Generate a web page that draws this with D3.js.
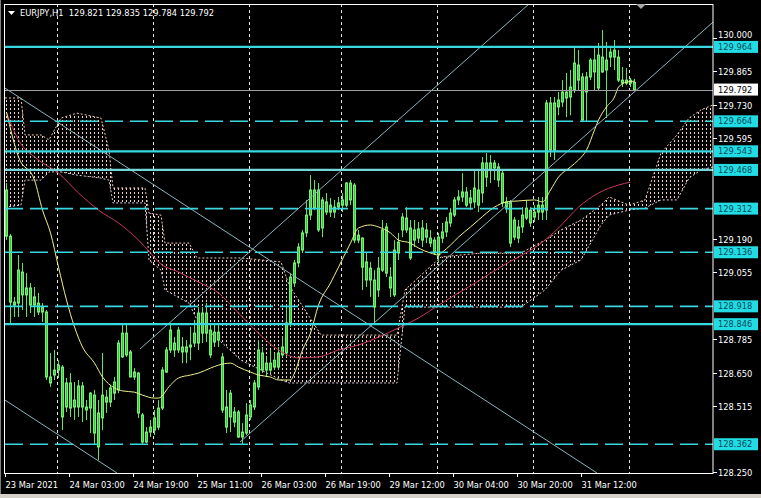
<!DOCTYPE html>
<html><head><meta charset="utf-8">
<script src="https://cdn.jsdelivr.net/npm/d3@7"></script>
<style>html,body{margin:0;padding:0;background:#000;overflow:hidden}</style>
</head><body>
<svg id="c" width="761" height="498"></svg>
<script>
// ---------------- DATA ----------------
const barOpen = [129.387,129.201,128.935,128.931,129.056,128.964,128.992,128.923,128.931,128.895,128.895,128.633,128.641,128.661,128.673,128.512,128.609,128.512,128.512,128.597,128.512,128.508,128.560,128.488,128.468,128.552,128.532,128.568,128.581,128.714,128.810,128.734,128.633,128.649,128.480,128.371,128.411,128.419,128.431,128.508,128.653,128.742,128.770,128.742,128.754,128.734,128.754,128.770,128.770,128.891,128.810,128.822,128.774,128.814,128.714,128.512,128.472,128.492,128.492,128.391,128.407,128.472,128.512,128.593,128.730,128.661,128.689,128.673,128.673,128.722,128.730,128.851,129.012,129.093,129.145,129.214,129.286,129.314,129.387,129.234,129.339,129.298,129.318,129.318,129.326,129.326,129.415,129.407,129.185,129.193,129.097,129.024,129.024,128.984,129.064,129.238,128.992,128.964,129.133,129.226,129.274,129.234,129.185,129.193,129.234,129.197,129.193,129.185,129.125,129.193,129.218,129.254,129.286,129.347,129.359,129.379,129.335,129.339,129.387,129.375,129.496,129.468,129.496,129.480,129.455,129.339,129.339,129.197,129.238,129.238,129.274,129.306,129.278,129.298,129.326,129.306,129.738,129.548,129.722,129.742,129.782,129.762,129.790,129.891,129.843,129.782,129.843,129.911,129.798,129.923,129.871,129.943,129.923,129.923,129.830,129.818,129.830,129.821];
const barHigh = [129.415,129.210,128.956,129.125,129.093,129.052,129.012,128.996,128.972,128.931,128.903,128.730,128.742,128.701,128.681,128.629,128.649,128.613,128.621,128.613,128.540,128.572,128.581,128.540,128.730,128.581,128.601,128.633,128.782,128.851,128.851,128.742,128.669,128.653,128.488,128.431,128.460,128.500,128.540,128.673,128.754,128.851,128.794,128.835,128.794,128.782,128.835,128.863,128.915,128.915,128.931,128.851,128.851,128.843,128.730,128.581,128.581,128.512,128.500,128.447,128.528,128.540,128.621,128.782,128.754,128.714,128.742,128.730,128.754,128.794,128.915,129.052,129.105,129.173,129.226,129.347,129.447,129.427,129.415,129.359,129.375,129.355,129.347,129.359,129.375,129.419,129.427,129.415,129.226,129.197,129.133,129.097,129.064,129.117,129.266,129.254,129.076,129.185,129.214,129.294,129.318,129.266,129.266,129.258,129.266,129.254,129.226,129.197,129.214,129.254,129.278,129.314,129.359,129.387,129.455,129.399,129.387,129.468,129.468,129.520,129.536,129.528,129.508,129.496,129.468,129.359,129.347,129.278,129.266,129.318,129.347,129.318,129.326,129.359,129.359,129.750,129.762,129.762,129.782,129.830,129.859,129.871,129.959,129.951,129.859,129.863,129.919,129.959,129.980,130.032,129.984,129.959,129.992,129.951,129.883,129.879,129.839,129.835];
const barLow = [129.185,128.843,128.875,128.875,128.903,128.875,128.891,128.875,128.883,128.855,128.621,128.593,128.621,128.629,128.419,128.492,128.472,128.460,128.472,128.451,128.460,128.407,128.359,128.298,128.419,128.488,128.512,128.540,128.568,128.710,128.714,128.633,128.621,128.468,128.359,128.367,128.391,128.399,128.419,128.500,128.649,128.730,128.714,128.730,128.689,128.689,128.701,128.754,128.742,128.770,128.774,128.710,128.754,128.754,128.488,128.407,128.411,128.431,128.387,128.363,128.399,128.460,128.500,128.581,128.649,128.633,128.649,128.661,128.661,128.714,128.714,128.835,128.996,129.076,129.133,129.197,129.266,129.306,129.218,129.197,129.286,129.278,129.274,129.306,129.298,129.318,129.326,129.173,129.173,128.984,128.996,128.956,128.843,128.956,129.056,129.036,128.956,128.956,129.105,129.197,129.214,129.105,129.157,129.173,129.157,129.173,129.157,129.125,129.093,129.173,129.197,129.238,129.278,129.326,129.339,129.318,129.306,129.314,129.298,129.335,129.399,129.415,129.427,129.399,129.318,129.294,129.157,129.185,129.173,129.214,129.266,129.238,129.258,129.266,129.266,129.266,129.520,129.508,129.689,129.722,129.681,129.689,129.778,129.790,129.661,129.661,129.830,129.790,129.790,129.859,129.677,129.883,129.871,129.822,129.802,129.810,129.802,129.784];
const barClose = [129.201,128.935,128.923,129.064,128.964,128.992,128.923,128.956,128.895,128.915,128.633,128.609,128.661,128.681,128.472,128.609,128.508,128.540,128.597,128.512,128.500,128.568,128.407,128.351,128.560,128.532,128.589,128.613,128.770,128.810,128.722,128.633,128.653,128.488,128.371,128.411,128.431,128.468,128.508,128.661,128.742,128.822,128.742,128.822,128.734,128.754,128.762,128.810,128.891,128.810,128.891,128.722,128.814,128.782,128.500,128.431,128.568,128.451,128.391,128.411,128.480,128.520,128.609,128.742,128.661,128.689,128.661,128.701,128.730,128.754,128.851,129.036,129.093,129.157,129.214,129.286,129.387,129.387,129.226,129.347,129.298,129.326,129.298,129.335,129.347,129.415,129.347,129.185,129.205,129.076,129.024,129.072,128.915,129.072,129.226,129.052,129.036,129.145,129.177,129.278,129.226,129.113,129.226,129.230,129.185,129.226,129.173,129.133,129.197,129.218,129.258,129.294,129.347,129.359,129.379,129.326,129.355,129.395,129.326,129.496,129.439,129.496,129.476,129.427,129.335,129.318,129.173,129.266,129.193,129.286,129.314,129.254,129.298,129.326,129.298,129.738,129.548,129.738,129.750,129.782,129.758,129.802,129.899,129.830,129.669,129.843,129.911,129.863,129.931,129.863,129.911,129.923,129.951,129.830,129.818,129.830,129.818,129.792];

// moving averages (bar index, price)
const yellowIdx = [0,3,7,9,11,13,15,17,19,22,24,27,29,32,34,37,38,41,43,46,48,51,53,56,58,61,63,66,68,71,72,74,76,78,81,83,86,88,91,93,96,98,101,103,106,108,109,111,113,116,118,122,125,128,132,134,136,138,141,143,145,147,148,150,152,153,155,157];
const yellowVal = [129.701,129.520,129.427,129.306,129.214,129.076,128.943,128.835,128.754,128.689,128.633,128.589,128.577,128.572,128.560,128.548,128.548,128.601,128.629,128.641,128.649,128.669,128.681,128.689,128.673,128.653,128.641,128.633,128.621,128.621,128.649,128.742,128.810,128.923,129.012,129.076,129.173,129.234,129.246,129.238,129.214,129.185,129.173,129.153,129.133,129.125,129.137,129.165,129.197,129.238,129.266,129.318,129.339,129.343,129.347,129.339,129.387,129.439,129.480,129.508,129.548,129.629,129.669,129.722,129.762,129.802,129.822,129.826];
const redIdx = [0,3,8,13,18,23,28,33,36,38,43,48,53,58,63,68,73,78,83,88,93,98,103,108,113,118,123,128,133,138,143,148,153,156];
const redVal = [129.697,129.589,129.508,129.455,129.375,129.306,129.254,129.185,129.133,129.097,129.056,129.016,128.972,128.891,128.810,128.742,128.710,128.714,128.742,128.762,128.794,128.831,128.871,128.923,128.972,129.020,129.072,129.117,129.165,129.234,129.318,129.375,129.407,129.419];

// ichimoku cloud (bar index, upper span, lower span)
const cloudIdx = [0,4,5,9,11,14,18,24,26,27,35,36,39,40,46,48,59,69,71,79,98,100,104,109,119,129,135,139,144,149,151,156,160,164,168,171,174,177];
const cloudUpper = [129.758,129.758,129.609,129.609,129.589,129.677,129.697,129.677,129.548,129.395,129.395,129.294,129.286,129.173,129.173,129.113,129.113,129.097,129.004,128.802,128.802,128.984,129.044,129.117,129.133,129.133,129.185,129.226,129.266,129.326,129.359,129.326,129.347,129.536,129.609,129.677,129.710,129.730];
const cloudLower = [129.318,129.326,129.427,129.427,129.460,129.460,129.447,129.435,129.427,129.335,129.335,129.105,129.064,128.984,128.931,128.863,128.701,128.621,128.609,128.609,128.609,128.915,128.915,128.915,128.915,128.915,128.984,129.064,129.105,129.246,129.286,129.306,129.314,129.347,129.347,129.435,129.468,129.480];

// trend lines [startBar, startPrice, endBar, endPrice]
const trendLines = [
  [0,129.798,148,128.246],
  [0,128.540,28,128.246],
  [58.75,128.371,177,130.064],
  [33.75,128.746,131,130.137]
];

// horizontal levels
const levelValues = [129.964,129.664,129.543,129.468,129.312,129.136,128.918,128.846,128.362];
const levelDashed = [false,true,false,false,true,true,true,false,true];
const lastPrice = 129.792;

// axes (tick labels that are visible; the others are covered by level labels)
const priceTicks = ["130.000","129.865","129.730","129.595","129.190","129.055","128.785","128.650","128.515","128.250"];
const timeTickBars = [0,16,32,48,64,80,96,112,128,144];
const timeTickLabels = ["23 Mar 2021","24 Mar 03:00","24 Mar 19:00","25 Mar 11:00","26 Mar 03:00","26 Mar 19:00","29 Mar 12:00","30 Mar 04:00","30 Mar 20:00","31 Mar 12:00"];
const daySeparatorBars = [13,37,61,84,108,132,156];
const headerText = "EURJPY,H1  129.821 129.835 129.784 129.792";

// ---------------- DRAW ----------------
const W = 761, H = 498;
const L = 5, R = 713, T = 4, B = 473;
const svg = d3.select("#c");
const FONT = "'DejaVu Sans', Verdana, sans-serif";

const x = d3.scaleLinear().domain([0, 177]).range([L, R]);   // bar left edge
const y = d3.scaleLinear().domain([128.246, 130.137]).range([B, T]);
const cx = i => x(i) + 1.5;

svg.append("rect").attr("width", W).attr("height", H).attr("fill", "#000");
svg.append("rect").attr("x", 0).attr("y", 494).attr("width", W).attr("height", 4).attr("fill", "#d4d0c8");
svg.append("rect").attr("x", 0).attr("y", 0).attr("width", 1).attr("height", 494).attr("fill", "#808080");

const defs = svg.append("defs");
defs.append("clipPath").attr("id", "plot").append("rect")
  .attr("x", L).attr("y", T).attr("width", R - L).attr("height", B - T);
const pat = defs.append("pattern").attr("id", "cloudPat").attr("patternUnits", "userSpaceOnUse")
  .attr("x", 6).attr("y", 0).attr("width", 4).attr("height", 4);
pat.append("rect").attr("x", 0).attr("y", 0).attr("width", 1).attr("height", 2).attr("fill", "#f2d2c8");

const g = svg.append("g").attr("clip-path", "url(#plot)");

// day separators
g.selectAll("line.sep").data(daySeparatorBars).enter().append("line")
  .attr("x1", d => x(d) + 0.5).attr("x2", d => x(d) + 0.5).attr("y1", T).attr("y2", B)
  .attr("stroke", "#e8e8e8").attr("stroke-width", 1).attr("stroke-dasharray", "3,3");

// cloud
const cloudData = cloudIdx.map((d, k) => ({ i: d, a: cloudUpper[k], b: cloudLower[k] }));
g.append("path").datum(cloudData)
  .attr("d", d3.area().x(d => x(d.i)).y0(d => y(d.b)).y1(d => y(d.a)))
  .attr("fill", "url(#cloudPat)");
[["a", "#f4c8b4"], ["b", "#e6cce0"]].forEach(([k, col]) => {
  g.append("path").datum(cloudData)
    .attr("d", d3.line().x(d => x(d.i)).y(d => y(d[k])))
    .attr("fill", "none").attr("stroke", col).attr("stroke-width", 1).attr("stroke-dasharray", "2,2");
});

// candles
const bars = d3.range(barOpen.length);
g.selectAll("line.wick").data(bars).enter().append("line")
  .attr("x1", i => cx(i)).attr("x2", i => cx(i))
  .attr("y1", i => y(barHigh[i])).attr("y2", i => y(barLow[i]))
  .attr("stroke", "#5ee65e").attr("stroke-width", 1);
g.selectAll("rect.body").data(bars).enter().append("rect")
  .attr("x", i => x(i) + 0.5).attr("width", 2)
  .attr("y", i => y(Math.max(barOpen[i], barClose[i])))
  .attr("height", i => Math.max(1, Math.abs(y(barOpen[i]) - y(barClose[i]))))
  .attr("fill", "#3cc83c").attr("stroke", "#72f072").attr("stroke-width", 1);

// moving averages
g.append("path").datum(redIdx.map((d, k) => [d, redVal[k]]))
  .attr("d", d3.line().x(d => cx(d[0])).y(d => y(d[1])).curve(d3.curveMonotoneX))
  .attr("fill", "none").attr("stroke", "#c83a5c").attr("stroke-width", 1);
g.append("path").datum(yellowIdx.map((d, k) => [d, yellowVal[k]]))
  .attr("d", d3.line().x(d => cx(d[0])).y(d => y(d[1])).curve(d3.curveMonotoneX))
  .attr("fill", "none").attr("stroke", "#f2f28c").attr("stroke-width", 1);

// trend lines
g.selectAll("line.trend").data(trendLines).enter().append("line")
  .attr("x1", d => x(d[0])).attr("y1", d => y(d[1]))
  .attr("x2", d => x(d[2])).attr("y2", d => y(d[3]))
  .attr("stroke", "#8cb4bc").attr("stroke-width", 1);

// last price line
g.append("line").attr("x1", L).attr("x2", R).attr("y1", Math.round(y(lastPrice)) + 0.5).attr("y2", Math.round(y(lastPrice)) + 0.5)
  .attr("stroke", "#a0a0a0").attr("stroke-width", 1);

// horizontal levels
levelValues.forEach((v, k) => {
  g.append("line").attr("x1", L).attr("x2", R).attr("y1", y(v)).attr("y2", y(v))
    .attr("stroke", v === 129.468 ? "#74d6d8" : "#38d8e0")
    .attr("stroke-width", levelDashed[k] ? 1.6 : 2.2)
    .attr("stroke-dasharray", levelDashed[k] ? "18,7" : null);
});

// frame
svg.append("rect").attr("x", L - 0.5).attr("y", T + 0.5).attr("width", R - L + 0.5).attr("height", B - T)
  .attr("fill", "none").attr("stroke", "#ffffff").attr("stroke-width", 1);

// price axis
const axisG = svg.append("g");
const boxTops = levelValues.map(v => y(v) - 6);
priceTicks.forEach(t => {
  const yy = Math.round(y(+t)) + 0.5;
  axisG.append("line").attr("x1", R).attr("x2", R + 4).attr("y1", yy).attr("y2", yy).attr("stroke", "#fff");
  // baseline, nudged up if a level label box sits just below
  let base = yy + 3;
  boxTops.forEach(bt => { if (bt > yy && bt - yy < 8) base = Math.min(base, bt - 3); });
  axisG.append("text").attr("x", 718).attr("y", base)
    .attr("fill", "#fff").attr("font-family", FONT).attr("font-size", "8.3px").text(t);
});
// level labels
levelValues.forEach(v => {
  const yy = y(v);
  axisG.append("rect").attr("x", 714).attr("y", yy - 6).attr("width", 44).attr("height", 12).attr("fill", "#22dce4");
  axisG.append("text").attr("x", 718).attr("y", yy).attr("dy", "0.36em")
    .attr("fill", "#0c4a5a").attr("font-family", FONT).attr("font-size", "8.3px").text(v.toFixed(3));
});
axisG.append("rect").attr("x", 714).attr("y", y(lastPrice) - 6).attr("width", 44).attr("height", 12).attr("fill", "#ffffff");
axisG.append("text").attr("x", 718).attr("y", y(lastPrice)).attr("dy", "0.36em")
  .attr("fill", "#000").attr("font-family", FONT).attr("font-size", "8.3px").text(lastPrice.toFixed(3));

// time axis
timeTickBars.forEach((b, k) => {
  const xx = Math.round(x(b)) + 0.5;
  axisG.append("line").attr("x1", xx).attr("x2", xx).attr("y1", B).attr("y2", B + 4).attr("stroke", "#fff");
  axisG.append("text").attr("x", xx).attr("y", 488)
    .attr("fill", "#fff").attr("font-family", FONT).attr("font-size", "8.3px").text(timeTickLabels[k]);
});

// header
svg.append("path").attr("d", "M8,11 L15,11 L11.5,15 Z").attr("fill", "#fff");
svg.append("text").attr("x", 20).attr("y", 16).attr("fill", "#fff")
  .attr("font-family", FONT).attr("font-size", "8.3px").attr("xml:space", "preserve")
  .style("white-space", "pre").text(headerText);

// chart shift marker
svg.append("path").attr("d", "M636,4 L646,4 L641,9 Z").attr("fill", "#a8a8a8");
</script>
</body></html>
